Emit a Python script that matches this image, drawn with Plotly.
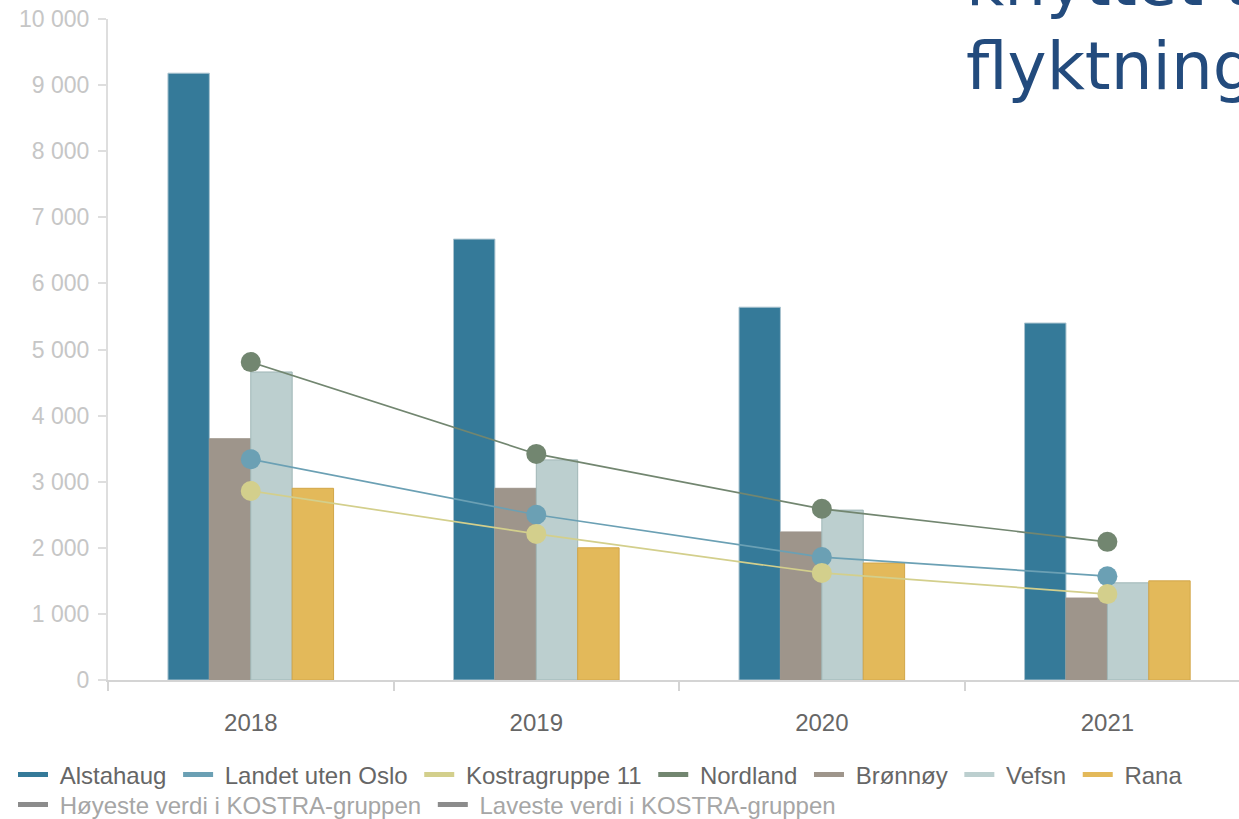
import plotly.graph_objects as go

years = ["2018", "2019", "2020", "2021"]

# bars
alstahaug = [9180, 6670, 5640, 5400]
bronnoy = [3650, 2900, 2240, 1240]
vefsn = [4660, 3330, 2570, 1470]
rana = [2900, 2000, 1770, 1500]

# lines
nordland = [4810, 3420, 2590, 2090]
landet = [3340, 2500, 1860, 1570]
kostra11 = [2860, 2210, 1620, 1300]

legend_row1 = ["Alstahaug", "Landet uten Oslo", "Kostragruppe 11", "Nordland", "Brønnøy", "Vefsn", "Rana"]
legend_row2 = ["Høyeste verdi i KOSTRA-gruppen", "Laveste verdi i KOSTRA-gruppen"]

colors = {
    "Alstahaug": "#357a99",
    "Landet uten Oslo": "#6ba0b4",
    "Kostragruppe 11": "#d3cf8c",
    "Nordland": "#728670",
    "Brønnøy": "#9e958b",
    "Vefsn": "#bccfcf",
    "Rana": "#e3b95a",
}
bar_edges = {"Alstahaug": "#a9c3cf", "Brønnøy": "#9e958b", "Vefsn": "#9fb6b6", "Rana": "#d2a648"}

fig = go.Figure()

# bars (group order: Alstahaug, Brønnøy, Vefsn, Rana)
for name, vals in [("Alstahaug", alstahaug), ("Brønnøy", bronnoy), ("Vefsn", vefsn), ("Rana", rana)]:
    fig.add_trace(go.Bar(
        x=years, y=vals, name=name, showlegend=False,
        marker=dict(color=colors[name], line=dict(color=bar_edges[name], width=1)),
    ))

# lines with markers
for name, vals in [("Nordland", nordland), ("Landet uten Oslo", landet), ("Kostragruppe 11", kostra11)]:
    fig.add_trace(go.Scatter(
        x=years, y=vals, name=name, mode="lines+markers", showlegend=False,
        line=dict(color=colors[name], width=1.7),
        marker=dict(color=colors[name], size=20),
    ))

# legend entries drawn as plain line swatches (nbsp for the wider item spacing)
pad = "\u00a0"
for name in legend_row1:
    fig.add_trace(go.Scatter(x=[None], y=[None], name=pad + name + pad, mode="lines",
                             line=dict(color=colors[name], width=5), legend="legend"))
for name in legend_row2:
    fig.add_trace(go.Scatter(x=[None], y=[None], name=pad + name + pad, mode="lines",
                             line=dict(color="#8c8c8c", width=5), legend="legend2"))

# figure is a bit taller than the window so the legends don't push the plot area up
fig.update_layout(
    width=1239, height=840,
    margin=dict(l=108, r=0, t=19, b=160),
    plot_bgcolor="white", paper_bgcolor="white",
    barmode="group", bargap=0.42, bargroupgap=0,
    separators=", ",
    font=dict(family="Liberation Sans, Arial, sans-serif"),
    xaxis=dict(
        range=[-0.5, 3.461], showgrid=False, showline=True, linecolor="#d4d4d4", linewidth=2,
        ticks="outside", tickson="boundaries", ticklen=9, tickcolor="#d4d4d4", tickwidth=2,
        tickfont=dict(size=24, color="#666666"), ticklabelstandoff=20,
    ),
    yaxis=dict(
        range=[0, 10000], dtick=1000, tickformat=",", showgrid=False, zeroline=False,
        showline=True, linecolor="#dedede", linewidth=2,
        ticks="outside", ticklen=8, tickcolor="#dedede", tickwidth=2,
        tickfont=dict(size=23, color="#c6c6c6"), ticklabelstandoff=4,
    ),
    legend=dict(
        orientation="h", x=(13 - 108) / 1131, y=(680 - 775) / 661,
        xanchor="left", yanchor="middle", font=dict(size=24, color="#666666"),
        itemwidth=30, bgcolor="rgba(0,0,0,0)",
    ),
    legend2=dict(
        orientation="h", x=(13 - 108) / 1131, y=(680 - 805) / 661,
        xanchor="left", yanchor="middle", font=dict(size=24, color="#a6a6a6"),
        itemwidth=30, bgcolor="rgba(0,0,0,0)",
    ),
)

# title fragment cut off at the top right
title_font = dict(family="DejaVu Sans, Verdana, sans-serif", size=66, color="#234b7d")
fig.add_annotation(text="knyttet til", xref="paper", yref="paper", x=(964 - 108) / 1131,
                   y=(680 + 17) / 661, xanchor="left", yanchor="middle", showarrow=False, font=title_font)
fig.add_annotation(text="flyktninger", xref="paper", yref="paper", x=(964 - 108) / 1131,
                   y=(680 - 66) / 661, xanchor="left", yanchor="middle", showarrow=False, font=title_font)

fig.write_html("out.html", config={"displayModeBar": False},
               post_script="document.body.style.margin='0';document.body.style.overflow='hidden';")
